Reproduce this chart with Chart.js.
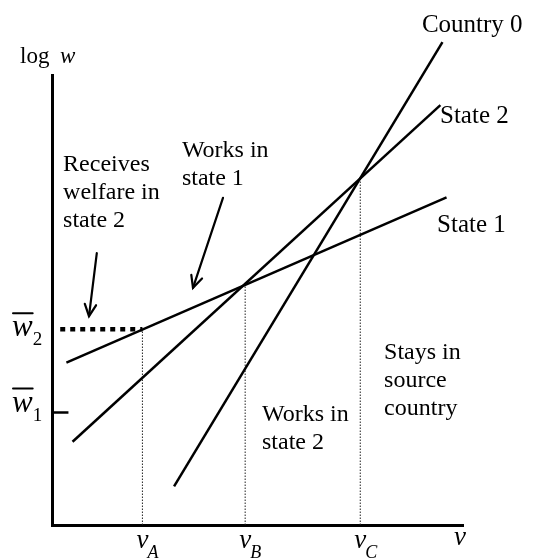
<!DOCTYPE html>
<html>
<head>
<meta charset="utf-8">
<script src="https://cdn.jsdelivr.net/npm/chart.js@4"></script>
<style>
  html, body { margin: 0; padding: 0; background: #fff; }
</style>
</head>
<body>
<canvas id="chart" width="534" height="560"></canvas>
<script>
// Migration choice diagram: log wage against skill v

// wage schedules (two end points each)
const state1 = [{ x: 3.5, y: 36.1 }, { x: 96, y: 72.8 }]
const state2 = [{ x: 5, y: 18.5 }, { x: 94.5, y: 93.3 }]
const country0 = [{ x: 29.7, y: 8.6 }, { x: 95, y: 107.3 }]

// skill thresholds and the wage where each is reached
const vCuts = [22, 47, 75]
const vCutTops = [43.5, 53.5, 77]
const vSubs = ['A', 'B', 'C']

// welfare floors
const wFloors = [43.5, 25]
const wSubs = ['2', '1']

// annotations
const seriesNames = ['Country 0', 'State 2', 'State 1']
const regionNotes = [
  ['Receives', 'welfare in', 'state 2'],
  ['Works in', 'state 1'],
  ['Works in', 'state 2'],
  ['Stays in', 'source', 'country']
]

const black = '#000'
const serif = '"Liberation Serif", "Times New Roman", serif'

const lineDs = (data, extra) => Object.assign({
  data,
  showLine: true,
  borderColor: black,
  borderWidth: 2.5,
  pointRadius: 0,
  clip: false
}, extra || {})

const datasets = [
  lineDs(state1),
  lineDs(state2),
  lineDs(country0)
]
vCuts.forEach((v, i) => {
  datasets.push(lineDs([{ x: v, y: 0 }, { x: v, y: vCutTops[i] }], {
    borderWidth: 1, borderColor: '#222', borderDash: [1.5, 1.5]
  }))
})
// heavy dotted line: welfare floor in state 2 up to v_A
datasets.push(lineDs([{ x: 2, y: wFloors[0] }, { x: vCuts[0], y: wFloors[0] }], {
  borderWidth: 4.5, borderDash: [5, 5], borderCapStyle: 'butt'
}))
// small tick for the state 1 floor
datasets.push(lineDs([{ x: 0, y: wFloors[1] }, { x: 4, y: wFloors[1] }], { borderWidth: 2.5 }))

function arrow(ctx, x1, y1, x2, y2) {
  ctx.beginPath()
  ctx.moveTo(x1, y1)
  ctx.lineTo(x2, y2)
  ctx.stroke()
  const a = Math.atan2(y2 - y1, x2 - x1)
  const len = 13
  ctx.beginPath()
  ctx.moveTo(x2 - len * Math.cos(a - 0.45), y2 - len * Math.sin(a - 0.45))
  ctx.lineTo(x2, y2)
  ctx.lineTo(x2 - len * Math.cos(a + 0.45), y2 - len * Math.sin(a + 0.45))
  ctx.stroke()
}

const annotations = {
  id: 'annotations',
  afterDatasetsDraw(chart) {
    const { ctx } = chart
    const sx = chart.scales.x, sy = chart.scales.y
    const px = v => sx.getPixelForValue(v)
    const py = v => sy.getPixelForValue(v)
    ctx.save()
    ctx.fillStyle = black
    ctx.strokeStyle = black
    ctx.textAlign = 'left'
    ctx.textBaseline = 'alphabetic'

    // axis title
    ctx.font = '23px ' + serif
    ctx.fillText('log', 20, 63)
    ctx.font = 'italic 23px ' + serif
    ctx.fillText('w', 60, 63)

    // series names
    const namePos = [[90, 109.6], [94.4, 89.3], [93.7, 65.1]]
    ctx.font = '25px ' + serif
    seriesNames.forEach((s, i) => ctx.fillText(s, px(namePos[i][0]), py(namePos[i][1])))

    // region notes
    const notePos = [[2.7, 78.7], [31.6, 81.8], [51.1, 23.1], [80.8, 36.9]]
    ctx.font = '24px ' + serif
    regionNotes.forEach((lines, i) => {
      lines.forEach((t, j) => ctx.fillText(t, px(notePos[i][0]), py(notePos[i][1]) + j * 28))
    })

    // arrows
    ctx.lineWidth = 2.2
    ctx.lineCap = 'round'
    arrow(ctx, px(10.9), py(60.4), px(9), py(46.4))
    arrow(ctx, px(41.6), py(72.7), px(34.3), py(52.7))

    // x axis labels
    vCuts.forEach((v, i) => {
      const x = px(v)
      ctx.font = 'italic 27px ' + serif
      ctx.textAlign = 'center'
      ctx.fillText('v', x, 548)
      ctx.textAlign = 'left'
      ctx.font = 'italic 18px ' + serif
      ctx.fillText(vSubs[i], x + 5, 558)
    })
    ctx.font = 'italic 27px ' + serif
    ctx.textAlign = 'center'
    ctx.fillText('v', px(100) - 3, 545)
    ctx.textAlign = 'left'

    // y axis labels
    const wOffsets = [7, -1]
    wFloors.forEach((w, i) => {
      const base = py(w) + wOffsets[i]
      ctx.font = 'italic 31px ' + serif
      ctx.fillText('w', 12, base)
      const ww = ctx.measureText('w').width
      ctx.lineWidth = 2
      ctx.beginPath()
      ctx.moveTo(13, base - 23)
      ctx.lineTo(12 + ww, base - 23)
      ctx.stroke()
      ctx.font = '19px ' + serif
      ctx.fillText(wSubs[i], 12 + ww, base + 9)
    })
    ctx.restore()
  }
}

// eslint-disable-next-line no-undef
new Chart(document.getElementById('chart').getContext('2d'), {
  type: 'scatter',
  data: { datasets },
  options: {
    responsive: false,
    animation: false,
    layout: { padding: { left: 52, right: 71, top: 75, bottom: 35 } },
    plugins: { legend: { display: false }, tooltip: { enabled: false } },
    scales: {
      x: {
        type: 'linear', min: 0, max: 100,
        grid: { display: false, drawTicks: false },
        ticks: { display: false },
        border: { display: true, color: black, width: 3 }
      },
      y: {
        type: 'linear', min: 0, max: 100,
        grid: { display: false, drawTicks: false },
        ticks: { display: false },
        border: { display: true, color: black, width: 3 }
      }
    }
  },
  plugins: [annotations]
})
</script>
</body>
</html>
